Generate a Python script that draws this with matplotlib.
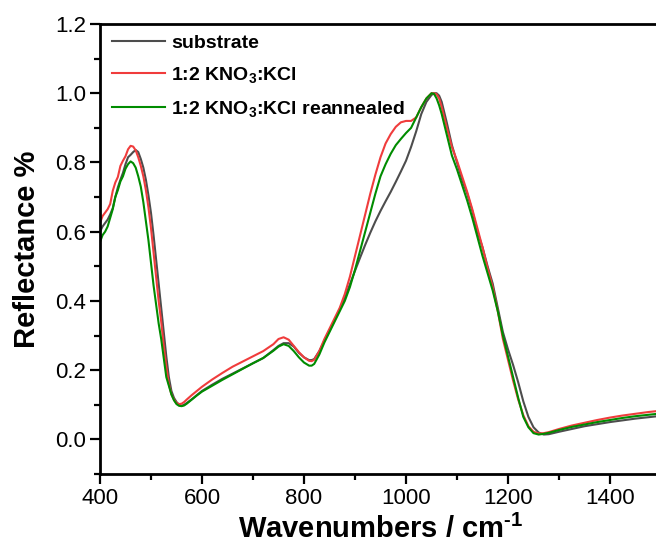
import numpy as np
import matplotlib
matplotlib.use('Agg')
import matplotlib.pyplot as plt
from matplotlib.ticker import MultipleLocator

plt.rcParams['font.family'] = ['Liberation Sans', 'DejaVu Sans']
plt.rcParams['mathtext.fontset'] = 'custom'
plt.rcParams['mathtext.rm'] = 'Liberation Sans'
plt.rcParams['mathtext.bf'] = 'Liberation Sans:bold'
plt.rcParams['mathtext.default'] = 'bf'

# wavenumbers (cm-1), shared by all three spectra
wavenumber = [400, 405, 410, 415, 420, 425, 430, 435, 440, 445, 450, 455, 460, 465,
              470, 475, 480, 485, 490, 495, 500, 505, 510, 515, 520, 525, 530, 535,
              540, 545, 550, 555, 560, 565, 570, 580, 590, 600, 620, 640, 660, 680,
              700, 720, 740, 750, 760, 770, 780, 790, 800, 810, 815, 820, 830, 840,
              850, 860, 870, 880, 890, 900, 910, 920, 930, 940, 950, 960, 970, 980,
              990, 1000, 1010, 1020, 1030, 1040, 1050, 1055, 1060, 1065, 1070, 1080,
              1090, 1100, 1110, 1120, 1130, 1140, 1150, 1160, 1170, 1180, 1190, 1200,
              1210, 1220, 1230, 1240, 1250, 1260, 1270, 1280, 1300, 1325, 1350, 1375,
              1400, 1425, 1450, 1475, 1500]

substrate = [0.600, 0.615, 0.625, 0.635, 0.650, 0.668, 0.700, 0.728, 0.750, 0.770,
             0.795, 0.815, 0.822, 0.830, 0.836, 0.830, 0.810, 0.785, 0.750, 0.705,
             0.654, 0.590, 0.520, 0.450, 0.380, 0.310, 0.240, 0.180, 0.140, 0.120,
             0.108, 0.100, 0.097, 0.100, 0.105, 0.116, 0.128, 0.140, 0.158, 0.175,
             0.190, 0.205, 0.220, 0.235, 0.258, 0.270, 0.278, 0.278, 0.268, 0.250,
             0.237, 0.229, 0.229, 0.232, 0.255, 0.285, 0.315, 0.345, 0.375, 0.410,
             0.448, 0.487, 0.525, 0.562, 0.597, 0.630, 0.660, 0.688, 0.715, 0.744,
             0.774, 0.805, 0.845, 0.890, 0.940, 0.975, 0.995, 1.000, 1.000, 0.993,
             0.975, 0.915, 0.850, 0.800, 0.750, 0.710, 0.660, 0.600, 0.555, 0.500,
             0.450, 0.380, 0.310, 0.260, 0.215, 0.165, 0.110, 0.065, 0.035, 0.020,
             0.014, 0.015, 0.022, 0.030, 0.038, 0.044, 0.050, 0.055, 0.060, 0.064,
             0.068]

kno3_kcl = [0.625, 0.645, 0.655, 0.665, 0.680, 0.718, 0.742, 0.758, 0.790, 0.805,
            0.818, 0.838, 0.848, 0.846, 0.835, 0.815, 0.790, 0.760, 0.720, 0.670,
            0.610, 0.540, 0.470, 0.400, 0.340, 0.270, 0.210, 0.160, 0.130, 0.115,
            0.105, 0.102, 0.103, 0.108, 0.115, 0.128, 0.140, 0.152, 0.173, 0.192,
            0.210, 0.225, 0.240, 0.255, 0.275, 0.290, 0.295, 0.288, 0.270, 0.252,
            0.237, 0.227, 0.226, 0.230, 0.255, 0.290, 0.320, 0.350, 0.380, 0.420,
            0.470, 0.530, 0.590, 0.650, 0.710, 0.765, 0.815, 0.855, 0.882, 0.903,
            0.916, 0.920, 0.920, 0.930, 0.960, 0.985, 1.000, 1.000, 0.997, 0.985,
            0.960, 0.900, 0.845, 0.805, 0.760, 0.715, 0.665, 0.610, 0.555, 0.495,
            0.440, 0.370, 0.290, 0.230, 0.170, 0.115, 0.070, 0.038, 0.022, 0.017,
            0.018, 0.021, 0.030, 0.040, 0.048, 0.056, 0.063, 0.069, 0.074, 0.079,
            0.083]

reannealed = [0.570, 0.590, 0.600, 0.615, 0.640, 0.665, 0.700, 0.720, 0.745, 0.760,
              0.782, 0.795, 0.803, 0.798, 0.785, 0.760, 0.730, 0.685, 0.630, 0.575,
              0.510, 0.445, 0.390, 0.335, 0.290, 0.235, 0.180, 0.155, 0.130, 0.113,
              0.102, 0.097, 0.096, 0.098, 0.103, 0.115, 0.127, 0.138, 0.155, 0.172,
              0.188, 0.204, 0.220, 0.235, 0.256, 0.268, 0.275, 0.270, 0.255, 0.237,
              0.222, 0.213, 0.213, 0.218, 0.245, 0.280, 0.310, 0.340, 0.370, 0.400,
              0.440, 0.490, 0.545, 0.600, 0.655, 0.710, 0.760, 0.795, 0.825, 0.850,
              0.868, 0.885, 0.900, 0.930, 0.960, 0.985, 1.000, 0.998, 0.985, 0.965,
              0.940, 0.880, 0.820, 0.780, 0.735, 0.690, 0.640, 0.585, 0.530, 0.480,
              0.430, 0.370, 0.300, 0.240, 0.180, 0.120, 0.065, 0.035, 0.018, 0.014,
              0.016, 0.019, 0.027, 0.036, 0.043, 0.050, 0.056, 0.062, 0.067, 0.071,
              0.075]

labels = ['substrate', r'1:2 KNO$_3$:KCl', r'1:2 KNO$_3$:KCl reannealed']
colors = ['#4d4d4d', '#f03c3c', '#008c00']

fig = plt.figure(figsize=(6.56, 5.58), dpi=100)
ax = fig.add_axes([100/656, 84/558, 561/656, 450/558])

for y, lab, c in zip([substrate, kno3_kcl, reannealed], labels, colors):
    ax.plot(wavenumber, y, color=c, lw=1.5, label=lab)

ax.set_xlim(400, 1500)
ax.set_ylim(-0.1, 1.2)
ax.xaxis.set_major_locator(MultipleLocator(200))
ax.xaxis.set_minor_locator(MultipleLocator(100))
ax.yaxis.set_major_locator(MultipleLocator(0.2))
ax.yaxis.set_minor_locator(MultipleLocator(0.1))
ax.yaxis.set_major_formatter(matplotlib.ticker.FormatStrFormatter('%.1f'))

for s in ax.spines.values():
    s.set_linewidth(2.0)
ax.tick_params(which='major', direction='out', length=7, width=1.6, labelsize=16, pad=3)
ax.tick_params(which='minor', direction='out', length=4, width=1.6)

ax.set_xlabel('Wavenumbers / cm$^{\\mathbf{\u2010 1}}$', fontsize=21, fontweight='bold', labelpad=4)
ax.set_ylabel('Reflectance %', fontsize=21, fontweight='bold', labelpad=10)

leg = ax.legend(loc='upper left', bbox_to_anchor=(12/561, 1 - 10/450), frameon=False,
                borderaxespad=0, borderpad=0, handlelength=2.7, handletextpad=0.35,
                labelspacing=0.7, prop={'size': 14, 'weight': 'bold'})

fig.savefig('out.png', dpi=100)
